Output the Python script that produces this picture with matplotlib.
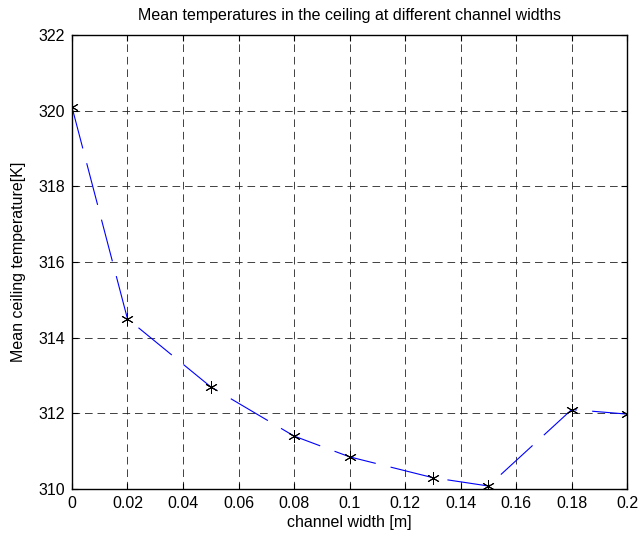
import numpy as np
import matplotlib
matplotlib.use('Agg')
import matplotlib.pyplot as plt

# values
width = [0.0, 0.02, 0.05, 0.08, 0.10, 0.13, 0.15, 0.18, 0.20]
temp = [320.1, 314.5, 312.7, 311.4, 310.85, 310.3, 310.08, 312.1, 311.98]

xticks = [0, 0.02, 0.04, 0.06, 0.08, 0.1, 0.12, 0.14, 0.16, 0.18, 0.2]
xticklabels = ['0', '0.02', '0.04', '0.06', '0.08', '0.1', '0.12', '0.14', '0.16', '0.18', '0.2']
yticks = [310, 312, 314, 316, 318, 320, 322]

plt.rcParams['font.family'] = ['Liberation Sans', 'DejaVu Sans']
plt.rcParams['font.size'] = 11.5
plt.rcParams['lines.scale_dashes'] = False

fig = plt.figure(figsize=(6.42, 5.40), dpi=100)
ax = fig.add_axes([0.112, 0.0944, 0.865, 0.841])

ax.plot(width, temp, color='#0000ff', linewidth=0.8, dashes=(31, 11))
ax.plot(width, temp, linestyle='none', marker=(6, 2, 0), markersize=9,
        markeredgecolor='k', markeredgewidth=0.7, color='k')

ax.set_xlim(0, 0.2)
ax.set_ylim(310, 322)
ax.set_xticks(xticks)
ax.set_xticklabels(xticklabels)
ax.set_yticks(yticks)

ax.grid(True, color='#222222', linewidth=0.6, dashes=(5.5, 3.5))
ax.set_axisbelow(True)
ax.tick_params(direction='in', top=True, right=True, length=4, width=0.8,
               labelsize=11.5, pad=5)
for s in ax.spines.values():
    s.set_linewidth(1.0)

ax.set_title('Mean temperatures in the ceiling at different channel widths',
             fontsize=11.5, pad=11)
ax.set_xlabel('channel width [m]', fontsize=11.5, labelpad=3)
ax.set_ylabel('Mean ceiling temperature[K]', fontsize=11.5, labelpad=9)

fig.savefig('out.png', dpi=100)
